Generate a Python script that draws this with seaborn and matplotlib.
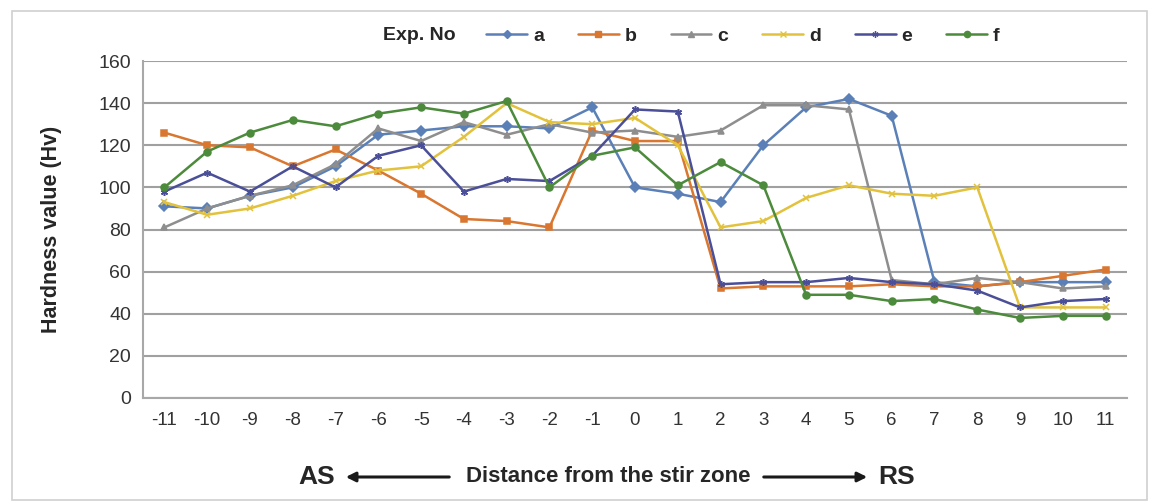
import numpy as np
import pandas as pd
import seaborn as sns
import matplotlib.pyplot as plt
from matplotlib.patches import Rectangle

# distance from the stir zone (mm) and hardness per experiment
distance = list(range(-11, 12))
exp_a = [91, 90, 96, 100, 110, 125, 127, 129, 129, 128, 138, 100, 97, 93, 120, 138, 142, 134, 55, 53, 55, 55, 55]
exp_b = [126, 120, 119, 110, 118, 108, 97, 85, 84, 81, 127, 122, 122, 52, 53, 53, 53, 54, 53, 53, 55, 58, 61]
exp_c = [81, 90, 96, 101, 111, 128, 122, 131, 125, 130, 126, 127, 124, 127, 139, 139, 137, 56, 54, 57, 55, 52, 53]
exp_d = [93, 87, 90, 96, 103, 108, 110, 124, 140, 131, 130, 133, 120, 81, 84, 95, 101, 97, 96, 100, 43, 43, 43]
exp_e = [98, 107, 98, 110, 100, 115, 120, 98, 104, 103, 115, 137, 136, 54, 55, 55, 57, 55, 54, 51, 43, 46, 47]
exp_f = [100, 117, 126, 132, 129, 135, 138, 135, 141, 100, 115, 119, 101, 112, 101, 49, 49, 46, 47, 42, 38, 39, 39]

names = ['a', 'b', 'c', 'd', 'e', 'f']
colors = ['#5B80B8', '#D9762F', '#8E8E8E', '#E2C23C', '#4A4F98', '#4C8A3C']
markers = ['D', 's', '^', 'x', (6, 2, 0), 'o']

series = [exp_a, exp_b, exp_c, exp_d, exp_e, exp_f]
df = pd.concat([pd.DataFrame({'dist': distance, 'hv': v, 'exp': n})
                for n, v in zip(names, series)])

sns.set_style("white")
plt.rcParams['font.family'] = ['Liberation Sans', 'DejaVu Sans']
plt.rcParams['axes.unicode_minus'] = False

fig = plt.figure(figsize=(11.53, 5.04), dpi=100)
ax = fig.add_axes([143 / 1153, 1 - 398 / 504, (1127 - 143) / 1153, (398 - 61) / 504])

for n, c, m in zip(names, colors, markers):
    sns.lineplot(data=df[df['exp'] == n], x='dist', y='hv', color=c, marker=m,
                 linewidth=1.8, markersize=5, markeredgewidth=1.1,
                 markeredgecolor=c, ax=ax, legend=False)

ax.set_xlim(-11.5, 11.5)
ax.set_ylim(0, 160)
ax.set_yticks(range(0, 161, 20))
ax.set_xticks(distance)
ax.set_xticks(np.arange(-11.5, 12, 1), minor=True)
ax.tick_params(axis='x', which='major', length=0, labelsize=13.5, pad=10, colors='#333333')
ax.tick_params(axis='x', which='minor', length=5, width=1.2, color='#999999', direction='out')
ax.tick_params(axis='y', which='major', length=5, width=1.2, color='#999999', labelsize=14,
               labelcolor='#333333', direction='out')
ax.grid(axis='y', color='#A0A0A0', linewidth=1.5)
ax.set_axisbelow(True)
for s in ['top', 'right']:
    ax.spines[s].set_visible(False)
for s in ['left', 'bottom']:
    ax.spines[s].set_color('#A8A8A8')
    ax.spines[s].set_linewidth(1.5)
ax.set_xlabel('')
ax.set_ylabel('Hardness value (Hv)', fontsize=15.5, fontweight='bold', labelpad=26)

# legend across the top
handles = [plt.Line2D([], [], color=c, marker=m, lw=1.8, ms=4.5, mew=1.0)
           for c, m in zip(colors, markers)]
fig.text(383 / 1153, 1 - 36 / 504, 'Exp. No', fontsize=14, fontweight='bold', va='center')
fig.legend(handles, names, ncol=6, frameon=False, loc='center left',
           bbox_to_anchor=(469 / 1153, 1 - 36 / 504), prop={'size': 14, 'weight': 'bold'},
           handlelength=2.1, handletextpad=0.3, columnspacing=1.75)

# x axis annotation with arrows
yl = 1 - 477 / 504
fig.text(317 / 1153, yl, 'AS', fontsize=19, fontweight='bold', ha='center', va='center')
fig.text(608 / 1153, yl, 'Distance from the stir zone', fontsize=16, fontweight='bold',
         ha='center', va='center')
fig.text(897 / 1153, yl, 'RS', fontsize=19, fontweight='bold', ha='center', va='center')
ap = dict(arrowstyle='-|>', color='#1a1a1a', lw=2.2, mutation_scale=14)
fig.add_artist(plt.Annotation('', xy=(343 / 1153, yl), xytext=(452 / 1153, yl),
                              xycoords='figure fraction', arrowprops=ap))
fig.add_artist(plt.Annotation('', xy=(870 / 1153, yl), xytext=(761 / 1153, yl),
                              xycoords='figure fraction', arrowprops=ap))

# outer chart border
fig.patches.append(Rectangle((12 / 1153, 1 - 500 / 504), (1147 - 12) / 1153, (500 - 11) / 504,
                             transform=fig.transFigure, fill=False, edgecolor='#D0D0D0', lw=1.2))

fig.savefig('out.png', dpi=100)
